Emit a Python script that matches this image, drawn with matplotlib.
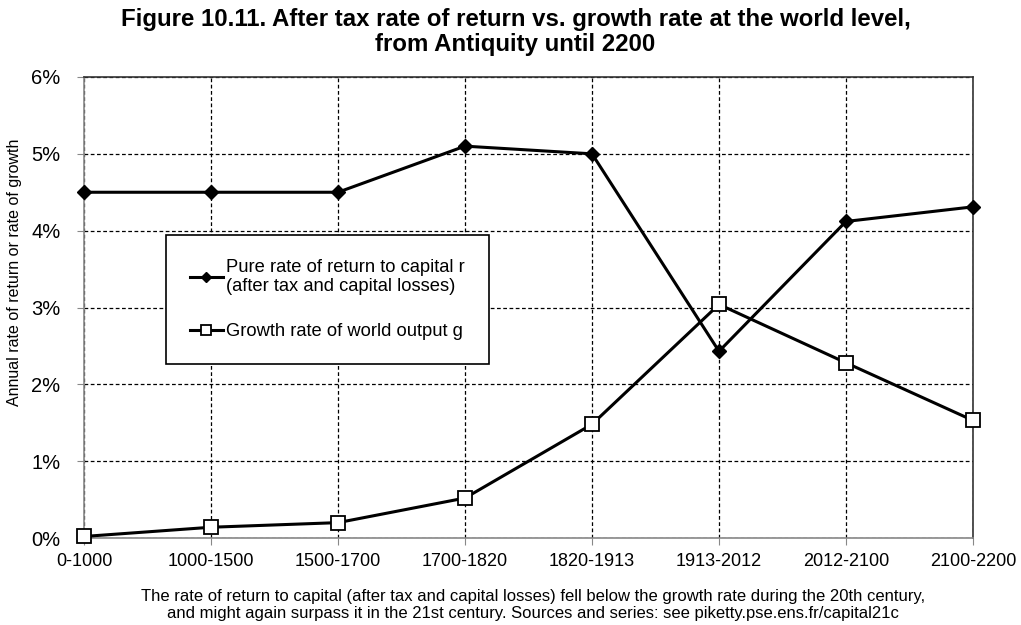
import matplotlib
matplotlib.use("Agg")
import matplotlib.pyplot as plt
from matplotlib.ticker import FuncFormatter

plt.rcParams['font.family'] = ['Liberation Sans', 'DejaVu Sans']

periods = ["0-1000", "1000-1500", "1500-1700", "1700-1820", "1820-1913",
           "1913-2012", "2012-2100", "2100-2200"]
r_values = [4.5, 4.5, 4.5, 5.1, 5.0, 2.43, 4.12, 4.31]
g_values = [0.02, 0.14, 0.20, 0.52, 1.48, 3.04, 2.28, 1.53]
y_ticks = [0, 1, 2, 3, 4, 5, 6]

fig = plt.figure(figsize=(10.21, 6.25), dpi=100)
ax = fig.add_axes([84/1021, 1-538/625, (973-84)/1021, (538-77)/625])

x = list(range(len(periods)))
l1, = ax.plot(x, r_values, color='black', lw=2.2, marker='D', ms=7,
              mfc='black', mec='black', zorder=4, clip_on=False,
              label="Pure rate of return to capital r\n(after tax and capital losses)")
l2, = ax.plot(x, g_values, color='black', lw=2.2, marker='s', ms=10,
              mfc='white', mec='black', mew=1.3, zorder=4, clip_on=False,
              label="Growth rate of world output g")

ax.set_xlim(0, len(periods)-1)
ax.set_ylim(0, 6)
ax.set_xticks(x)
ax.set_xticklabels(periods)
ax.set_yticks(y_ticks)
ax.yaxis.set_major_formatter(FuncFormatter(lambda v, p: f"{int(v)}%"))
ax.tick_params(axis='both', labelsize=13, color='#888888', length=5)
ax.tick_params(axis='x', pad=6)
ax.tick_params(axis='y', labelsize=14.5, pad=12)

ax.grid(True, color='black', linestyle=(0, (3, 2)), lw=0.9)
ax.set_axisbelow(True)
for s in ['left', 'bottom']:
    ax.spines[s].set_color('#888888')
    ax.spines[s].set_linewidth(1.2)
for s in ['top', 'right']:
    ax.spines[s].set_color('#333333')
    ax.spines[s].set_linewidth(1.2)

fig.text(15/1021, 1-272/625, "Annual rate of return or rate of growth", rotation=90,
         ha='center', va='center', fontsize=11.5)

leg = ax.legend(handles=[l1, l2], loc='upper left',
                bbox_to_anchor=((166-84)/889, (538-235)/461),
                fontsize=13.2, frameon=True, fancybox=False, edgecolor='black',
                handlelength=1.8, handletextpad=0.2, labelspacing=1.5,
                borderpad=1.3, markerscale=0.75, borderaxespad=0)
leg.get_frame().set_linewidth(1.2)
leg.get_frame().set_alpha(1)

fig.text(0.505, 1-32/625, "Figure 10.11. After tax rate of return vs. growth rate at the world level,\nfrom Antiquity until 2200",
         ha='center', va='center', fontsize=17.3, fontweight='bold', linespacing=1.15)
fig.text(0.522, 1-605/625, "The rate of return to capital (after tax and capital losses) fell below the growth rate during the 20th century,\nand might again surpass it in the 21st century. Sources and series: see piketty.pse.ens.fr/capital21c",
         ha='center', va='center', fontsize=12, linespacing=1.15)

fig.savefig("out.png", dpi=100)
